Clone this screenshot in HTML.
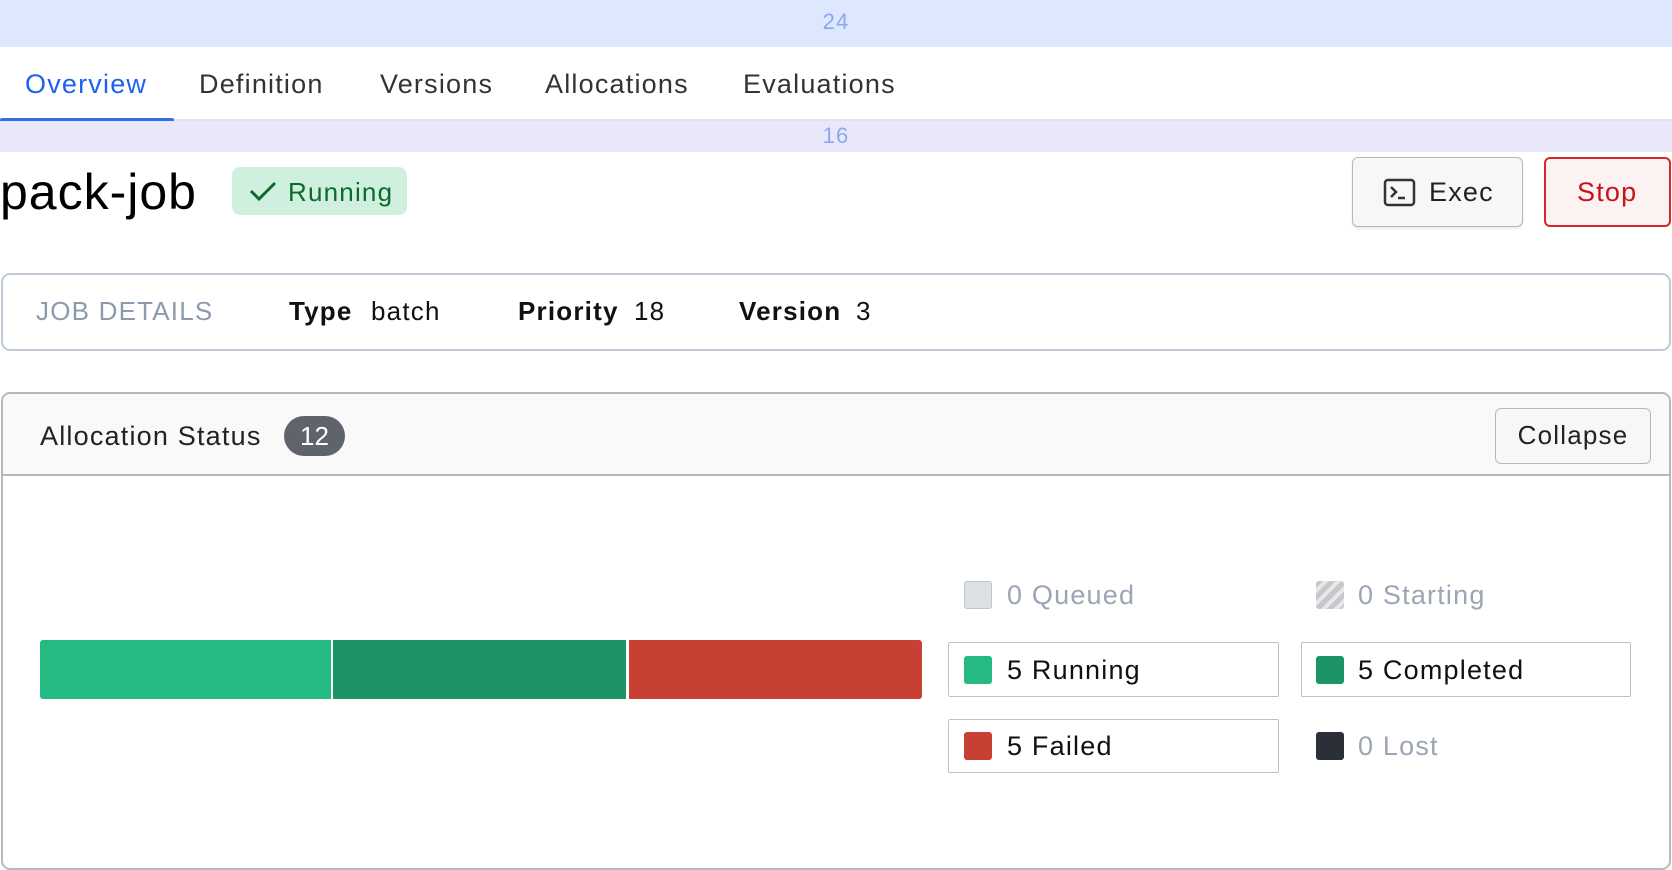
<!DOCTYPE html>
<html><head><meta charset="utf-8"><style>
*{box-sizing:border-box;margin:0;padding:0}
body{width:1672px;height:868px;background:#fff;font-family:"Liberation Sans",sans-serif;position:relative;overflow:hidden;color:#111;letter-spacing:1.2px}
.a{position:absolute;white-space:nowrap}
.sq{position:absolute;width:28px;height:28px;border-radius:3px}
.lt{position:absolute;font-size:27px;line-height:30px;white-space:nowrap}
.box{position:absolute;border:1.5px solid #b9c2cf;border-radius:2px}
</style></head><body>
<div class="a" style="left:0;top:0;width:1672px;height:47px;background:#dde7fd"></div>
<div class="a" style="left:0;top:9px;width:1672px;text-align:center;font-size:22px;color:#8ea6f0">24</div>
<div class="a" style="left:0;top:119px;width:1672px;height:2px;background:#dfe3ea"></div>
<div class="a" style="left:0;top:118px;width:174px;height:5px;background:#2f6fe8;border-radius:2px"></div>
<div class="a" style="left:25px;top:69px;font-size:27px;color:#1f63ec">Overview</div>
<div class="a" style="left:199px;top:69px;font-size:27px;color:#333">Definition</div>
<div class="a" style="left:380px;top:69px;font-size:27px;color:#333">Versions</div>
<div class="a" style="left:545px;top:69px;font-size:27px;color:#333">Allocations</div>
<div class="a" style="left:743px;top:69px;font-size:27px;color:#333">Evaluations</div>
<div class="a" style="left:0;top:121px;width:1672px;height:31px;background:#e8e8fa"></div>
<div class="a" style="left:0;top:123px;width:1672px;text-align:center;font-size:22px;color:#8ea6f0">16</div>
<div class="a" style="left:0;top:163px;font-size:50px;color:#000;letter-spacing:1px">pack-job</div>
<div class="a" style="left:232px;top:167px;width:175px;height:48px;background:#d0f0df;border-radius:8px"></div>
<svg class="a" style="left:248px;top:178px" width="30" height="26"><path d="M3 13 L11 21 L27 5" stroke="#0b6b2c" stroke-width="3" fill="none"/></svg>
<div class="a" style="left:288px;top:177px;font-size:26px;color:#0b6b2c">Running</div>
<div class="a" style="left:1352px;top:157px;width:171px;height:70px;border:1.5px solid #b4b8bf;border-radius:6px;background:#f7f7f7;box-shadow:0 2px 2px rgba(0,0,0,.08)"></div>
<svg class="a" style="left:1383px;top:178px" width="34" height="30"><rect x="2" y="2" width="29" height="25" rx="3" stroke="#333" stroke-width="2.5" fill="none"/><path d="M8 9 L13 14 L8 19 M15 20 H22" stroke="#333" stroke-width="2.5" fill="none"/></svg>
<div class="a" style="left:1429px;top:177px;font-size:27px;color:#222">Exec</div>
<div class="a" style="left:1544px;top:157px;width:127px;height:70px;border:2px solid #d8262b;border-radius:6px;background:#fdf2f2"></div>
<div class="a" style="left:1577px;top:177px;font-size:27px;color:#c6121b">Stop</div>
<div class="a" style="left:1px;top:273px;width:1670px;height:78px;border:2px solid #c0c9d6;border-radius:9px"></div>
<div class="a" style="left:36px;top:296px;font-size:26px;color:#8c9aaf">JOB DETAILS</div>
<div class="a" style="left:289px;top:296px;font-size:26px;font-weight:bold">Type</div>
<div class="a" style="left:371px;top:296px;font-size:26px">batch</div>
<div class="a" style="left:518px;top:296px;font-size:26px;font-weight:bold">Priority</div>
<div class="a" style="left:634px;top:296px;font-size:26px">18</div>
<div class="a" style="left:739px;top:296px;font-size:26px;font-weight:bold">Version</div>
<div class="a" style="left:856px;top:296px;font-size:26px">3</div>
<div class="a" style="left:1px;top:392px;width:1670px;height:478px;border:2px solid #b8b8b8;border-radius:9px;overflow:hidden">
<div style="height:82px;background:#f9f9f9;border-bottom:2px solid #b8b8b8"></div></div>
<div class="a" style="left:40px;top:421px;font-size:27px;color:#222">Allocation Status</div>
<div class="a" style="left:284px;top:416px;width:61px;height:40px;border-radius:20px;background:#5f636b;color:#fff;font-size:26px;text-align:center;line-height:40px;letter-spacing:0">12</div>
<div class="a" style="left:1495px;top:408px;width:156px;height:56px;border:1.5px solid #b4b8bf;border-radius:6px;background:#f7f7f7;font-size:26px;text-align:center;line-height:53px;color:#222">Collapse</div>
<div class="a" style="left:40px;top:640px;width:291px;height:59px;background:#25ba81;border-radius:3px 0 0 3px"></div>
<div class="a" style="left:333px;top:640px;width:293px;height:59px;background:#1d9467"></div>
<div class="a" style="left:629px;top:640px;width:293px;height:59px;background:#c84034;border-radius:0 3px 3px 0"></div>
<div class="sq" style="left:964px;top:581px;background:#dcdfe4;border:1.5px solid #c0c4cc"></div>
<div class="lt" style="left:1007px;top:580px;color:#9aa5b5">0 Queued</div>
<div class="sq" style="left:1316px;top:581px;background:repeating-linear-gradient(135deg,#c8c8cc 0 5px,#e8e8ea 5px 9px)"></div>
<div class="lt" style="left:1358px;top:580px;color:#9aa5b5">0 Starting</div>
<div class="box" style="left:948px;top:642px;width:331px;height:55px"></div>
<div class="sq" style="left:964px;top:656px;background:#25ba81"></div>
<div class="lt" style="left:1007px;top:655px">5 Running</div>
<div class="box" style="left:1301px;top:642px;width:330px;height:55px"></div>
<div class="sq" style="left:1316px;top:656px;background:#1d9467"></div>
<div class="lt" style="left:1358px;top:655px">5 Completed</div>
<div class="box" style="left:948px;top:719px;width:331px;height:54px"></div>
<div class="sq" style="left:964px;top:732px;background:#c84034"></div>
<div class="lt" style="left:1007px;top:731px">5 Failed</div>
<div class="sq" style="left:1316px;top:732px;background:#2b2f38"></div>
<div class="lt" style="left:1358px;top:731px;color:#9aa5b5">0 Lost</div>
</body></html>
